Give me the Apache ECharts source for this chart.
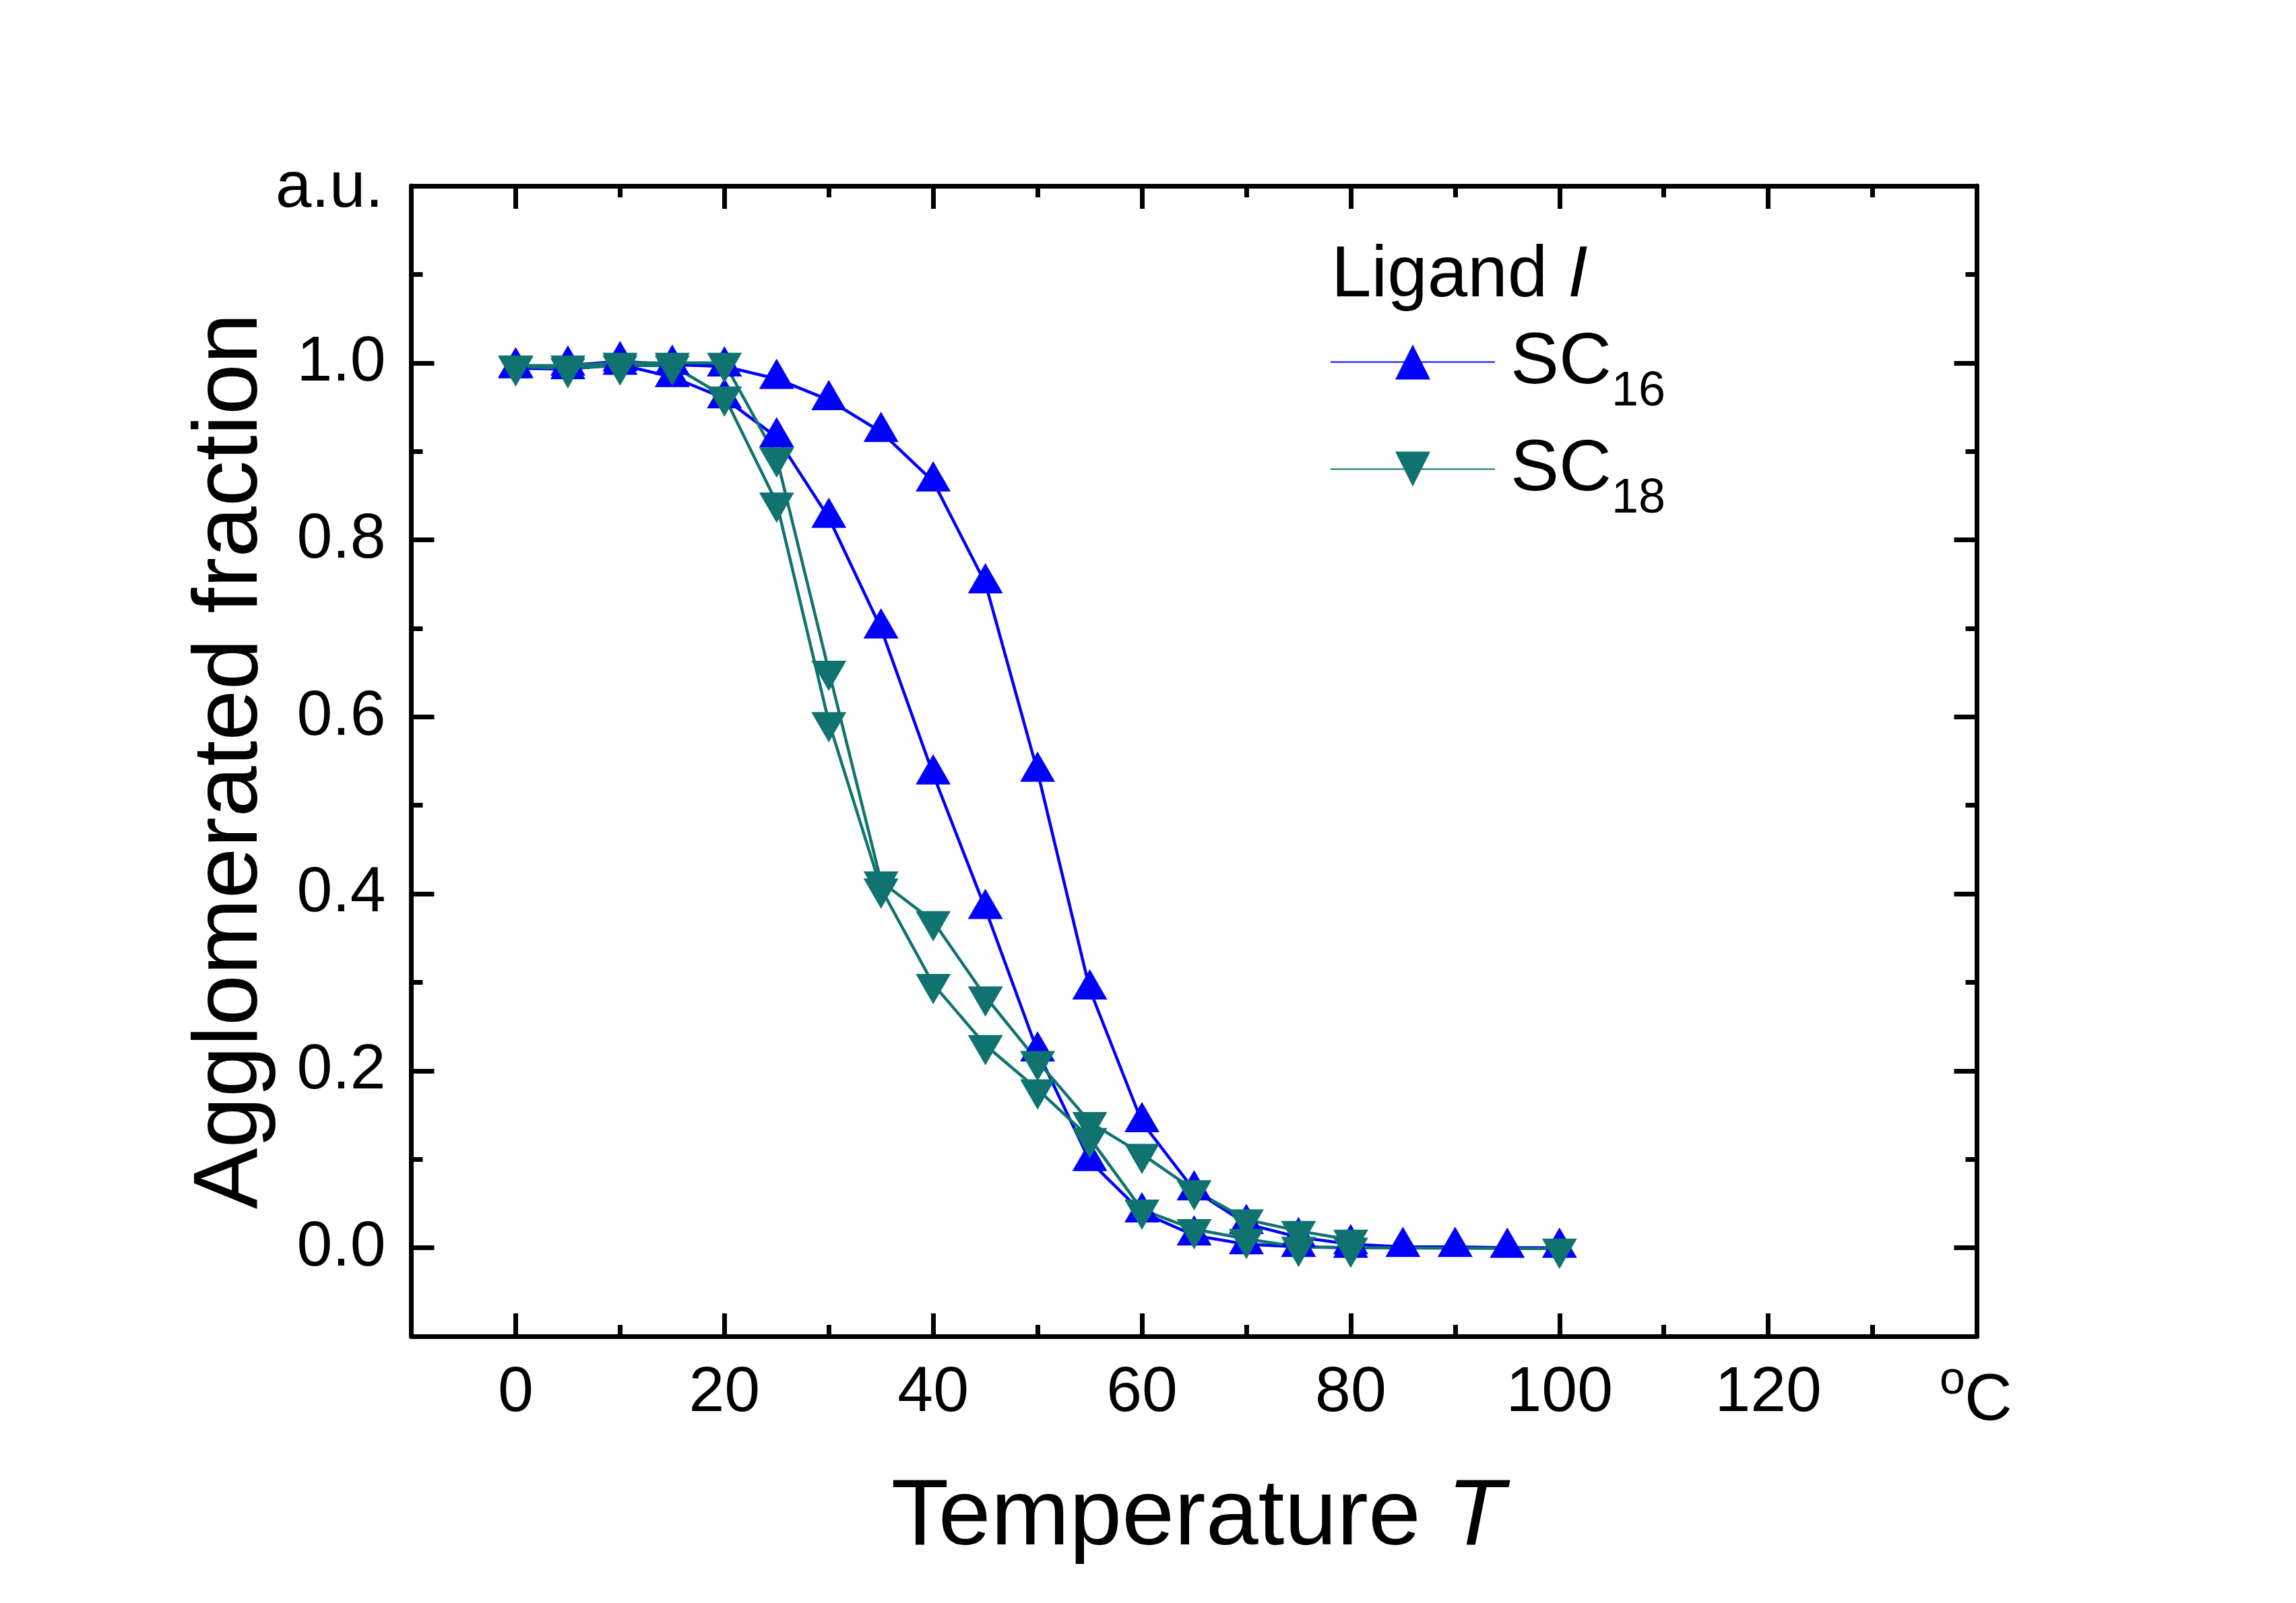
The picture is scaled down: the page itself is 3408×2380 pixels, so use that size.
<!DOCTYPE html>
<html>
<head>
<meta charset="utf-8">
<title>Agglomerated fraction vs temperature</title>
<script src="https://cdn.jsdelivr.net/npm/echarts@6/dist/echarts.min.js"></script>
<style>
  html, body { margin: 0; padding: 0; background: #fff; }
  #chart { width: 3408px; height: 2380px; }
</style>
</head>
<body>
<div id="chart"></div>
<script>
// temperatures in degC
const tempsFull = [0, 5, 10, 15, 20, 25, 30, 35, 40, 45, 50, 55, 60, 65, 70, 75, 80, 85, 90, 95, 100];
const temps80 = [0, 5, 10, 15, 20, 25, 30, 35, 40, 45, 50, 55, 60, 65, 70, 75, 80];
const temps18b = [0, 5, 10, 15, 20, 25, 30, 35, 40, 45, 50, 55, 60, 65, 70, 75, 80, 100];

// SC16, two runs (blue, up triangles)
const sc16Heat = [0.995, 0.997, 1.002, 0.998, 0.996, 0.982, 0.958, 0.922, 0.866, 0.751, 0.538,
                  0.292, 0.142, 0.065, 0.027, 0.012, 0.004, 0.001, 0.001, 0.0, 0.0];
const sc16Cool = [0.994, 0.993, 0.998, 0.984, 0.960, 0.916, 0.825, 0.700, 0.535, 0.383, 0.222,
                  0.098, 0.040, 0.014, 0.004, 0.001, 0.0];
// SC18, two runs (teal, down triangles)
const sc18Heat = [0.997, 0.997, 1.0, 1.0, 1.0, 0.893, 0.652, 0.414, 0.369, 0.284, 0.211,
                  0.142, 0.106, 0.065, 0.032, 0.019, 0.009];
const sc18Cool = [0.996, 0.994, 0.997, 0.997, 0.962, 0.842, 0.594, 0.406, 0.298, 0.229, 0.179,
                  0.124, 0.043, 0.021, 0.010, 0.001, 0.0, -0.001];

const xMajorTicks = [0, 20, 40, 60, 80, 100, 120];
const yMajorTicks = [0.0, 0.2, 0.4, 0.6, 0.8, 1.0];

const BLUE = '#0000ff';
const TEAL = '#117370';
const FONT = '"Liberation Sans", Arial, Helvetica, sans-serif';

// frame of the plot, px
const W = 3408, H = 2380;
const plot = {left: 610.5, right: 2934.5, top: 276, bottom: 1984};
const xMin = -10, xMax = 140, yMin = -0.1, yMax = 1.2;
const zeroX = plot.left + (0 - xMin) * (plot.right - plot.left) / (xMax - xMin);
const zeroY = plot.bottom - (0 - yMin) * (plot.bottom - plot.top) / (yMax - yMin);

function pairs(xs, ys) {
  return xs.map((x, i) => [x, ys[i]]);
}

const tickStyle = {color: '#000', width: 7};

// grid 0: full frame with minor ticks; grid 1: starts at 0/0 and carries the major ticks + labels
function frameX(position) {
  return {
    gridIndex: 0, type: 'value', position: position, min: xMin, max: xMax, interval: 10,
    axisLine: {show: true, onZero: false, lineStyle: {color: '#000', width: 7}},
    axisTick: {show: true, inside: true, length: 17, lineStyle: tickStyle},
    axisLabel: {show: false}, splitLine: {show: false}
  };
}
function frameY(position) {
  return {
    gridIndex: 0, type: 'value', position: position, min: yMin, max: yMax, interval: 0.1,
    axisLine: {show: true, onZero: false, lineStyle: {color: '#000', width: 7}},
    axisTick: {show: true, inside: true, length: 17, lineStyle: tickStyle},
    axisLabel: {show: false}, splitLine: {show: false}
  };
}
function majorX(position, labels) {
  return {
    gridIndex: 1, type: 'value', position: position, min: 0, max: xMax, interval: 20,
    offset: position === 'bottom' ? plot.bottom - zeroY : 0,
    axisLine: {show: false, onZero: false},
    axisTick: {show: true, inside: true, length: 34, lineStyle: tickStyle},
    axisLabel: {
      show: labels, margin: 37, color: '#000', fontSize: 95, fontFamily: FONT,
      formatter: v => (xMajorTicks.indexOf(v) >= 0 ? String(v) : '')
    },
    splitLine: {show: false}
  };
}
function majorY(position, labels) {
  return {
    gridIndex: 1, type: 'value', position: position, min: 0, max: yMax, interval: 0.2,
    offset: position === 'left' ? zeroX - plot.left : 0,
    axisLine: {show: false, onZero: false},
    axisTick: {show: true, inside: true, length: 34, lineStyle: tickStyle},
    axisLabel: {
      show: labels, margin: 38, color: '#000', fontSize: 95, fontFamily: FONT,
      formatter: v => (yMajorTicks.some(t => Math.abs(t - v) < 1e-6) ? v.toFixed(1) : '')
    },
    splitLine: {show: false}
  };
}

function lineSeries(name, data, color, down) {
  return {
    type: 'line', name: name, xAxisIndex: 0, yAxisIndex: 0, data: data,
    symbol: 'triangle', symbolSize: [52, 45],
    symbolRotate: down ? 180 : 0,
    symbolOffset: [0, down ? 7.5 : -7.5],
    showAllSymbol: true, clip: false,
    lineStyle: {color: color, width: 4.5},
    itemStyle: {color: color},
    emphasis: {disabled: true}
  };
}

const legendRich = {
  m: {fontSize: 108, fontFamily: FONT, color: '#000', verticalAlign: 'top', padding: [28, 0, 0, 18]},
  s: {fontSize: 72, fontFamily: FONT, color: '#000', verticalAlign: 'top', padding: [89, 0, 0, 0]}
};
function legendFor(name, centerY) {
  return {
    data: [name], left: 1974, top: centerY - 51, padding: 0,
    itemWidth: 244, itemHeight: 65, selectedMode: false,
    formatter: n => '{m|' + n.slice(0, 2) + '}{s|' + n.slice(2) + '}',
    textStyle: {rich: legendRich}
  };
}

const chart = echarts.init(document.getElementById('chart'), null, {renderer: 'canvas'});
chart.setOption({
  animation: false,
  backgroundColor: '#fff',
  grid: [
    {left: plot.left, right: W - plot.right, top: plot.top, bottom: H - plot.bottom,
     containLabel: false, outerBoundsMode: 'none'},
    {left: zeroX, right: W - plot.right, top: plot.top, bottom: H - zeroY,
     containLabel: false, outerBoundsMode: 'none'}
  ],
  xAxis: [frameX('bottom'), frameX('top'), majorX('bottom', true), majorX('top', false)],
  yAxis: [frameY('left'), frameY('right'), majorY('left', true), majorY('right', false)],
  legend: [legendFor('SC16', 536), legendFor('SC18', 695)],
  graphic: [
    {type: 'text', x: 343, y: 1130, rotation: Math.PI / 2,
     style: {text: 'Agglomerated fraction', fill: '#000', font: '136px ' + FONT,
             textAlign: 'center', textVerticalAlign: 'middle', align: 'center', verticalAlign: 'middle'}},
    {type: 'text', x: 1778, y: 2254,
     style: {text: '{t|Temperature }{i|T}', fill: '#000', textAlign: 'center', textVerticalAlign: 'middle',
             align: 'center', verticalAlign: 'middle',
             rich: {t: {fontSize: 140, fontFamily: FONT}, i: {fontSize: 140, fontFamily: FONT, fontStyle: 'italic'}}}},
    {type: 'text', x: 569, y: 281,
     style: {text: 'a.u.', fill: '#000', font: '96px ' + FONT,
             textAlign: 'right', textVerticalAlign: 'middle', align: 'right', verticalAlign: 'middle'}},
    {type: 'text', x: 2879, y: 2050,
     style: {text: 'o', fill: '#000', font: '68px ' + FONT,
             textAlign: 'left', textVerticalAlign: 'middle', align: 'left', verticalAlign: 'middle'}},
    {type: 'text', x: 2916, y: 2081,
     style: {text: 'C', fill: '#000', font: '98px ' + FONT,
             textAlign: 'left', textVerticalAlign: 'middle', align: 'left', verticalAlign: 'middle'}},
    {type: 'text', x: 1976, y: 410,
     style: {text: '{n|Ligand }{i|I}', fill: '#000', textAlign: 'left', textVerticalAlign: 'middle',
             align: 'left', verticalAlign: 'middle',
             rich: {n: {fontSize: 107, fontFamily: FONT}, i: {fontSize: 107, fontFamily: FONT, fontStyle: 'italic'}}}}
  ],
  series: [
    lineSeries('SC16', pairs(tempsFull, sc16Heat), BLUE, false),
    lineSeries('SC16', pairs(temps80, sc16Cool), BLUE, false),
    lineSeries('SC18', pairs(temps80, sc18Heat), TEAL, true),
    lineSeries('SC18', pairs(temps18b, sc18Cool), TEAL, true)
  ]
});
</script>
</body>
</html>
